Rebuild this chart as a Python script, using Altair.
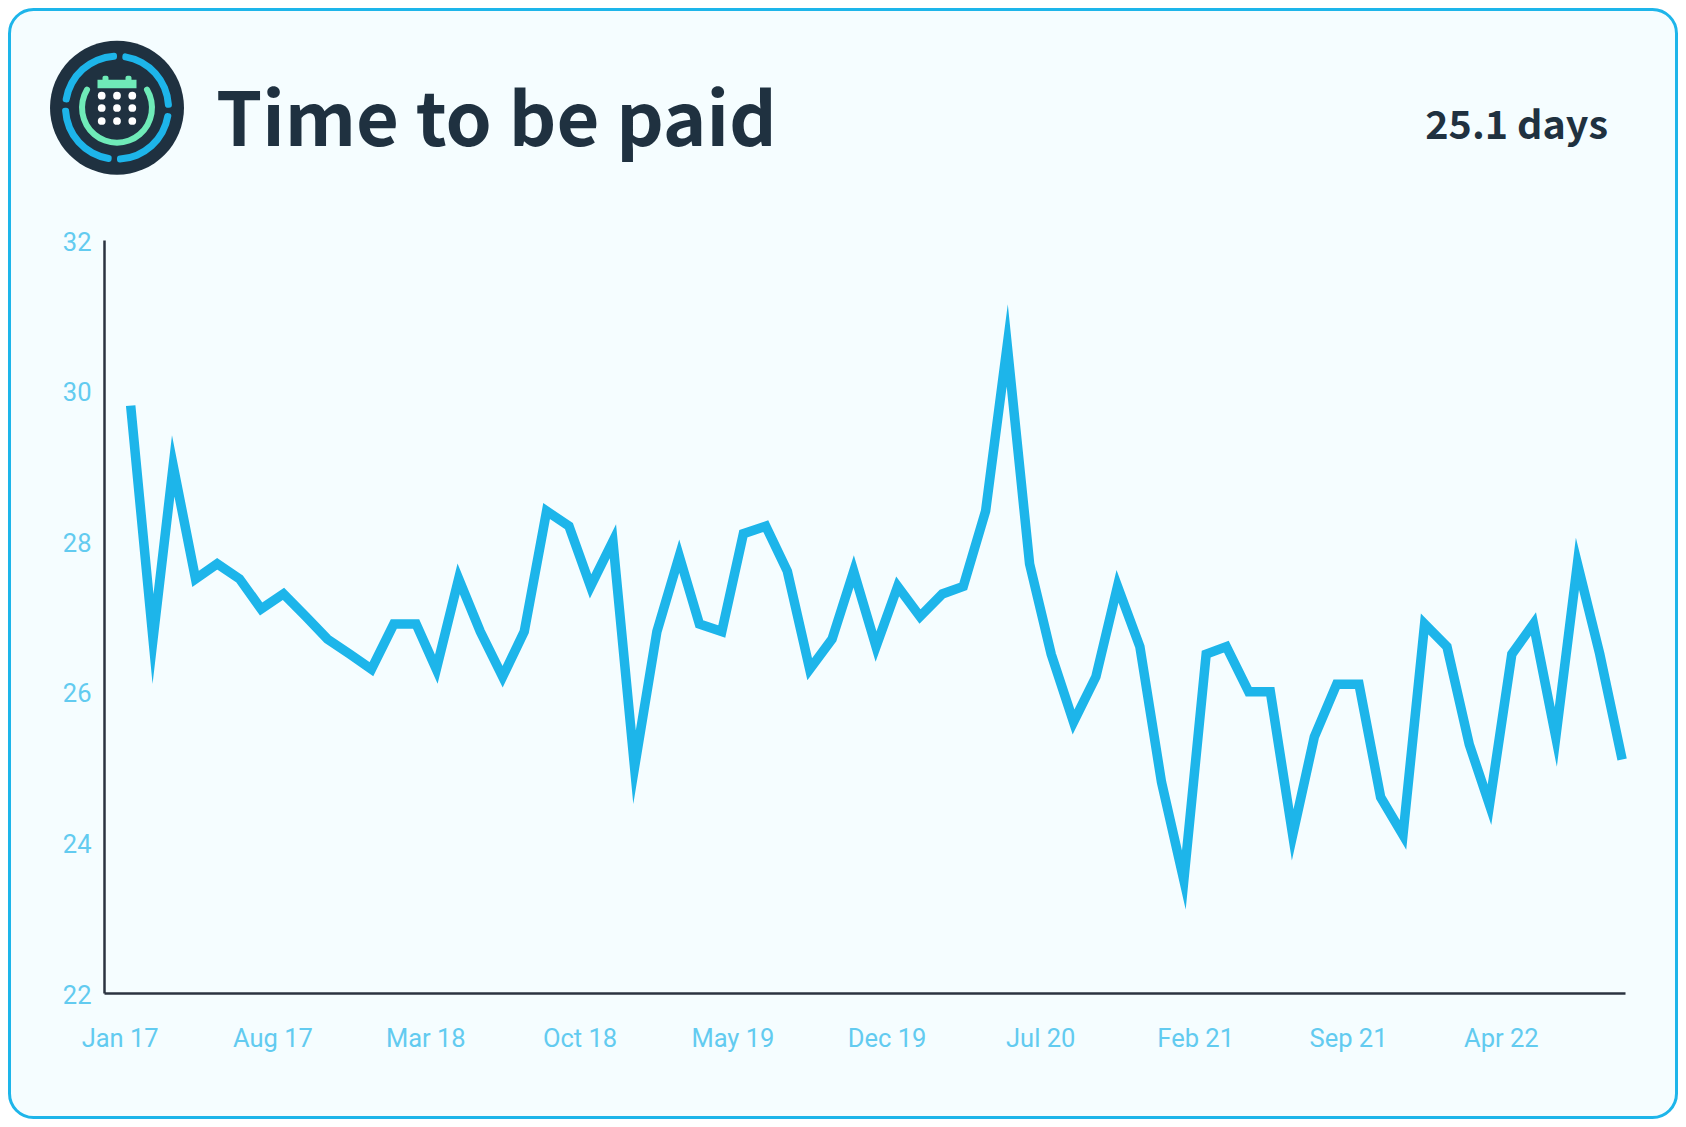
import math
import altair as alt
import pandas as pd

start_months = pd.date_range("2017-01-01", periods=69, freq="MS")
values = [29.8, 26.7, 29.0, 27.5, 27.7, 27.5, 27.1, 27.3, 27.0, 26.7, 26.5, 26.3, 26.9, 26.9, 26.3, 27.5, 26.8,
          26.2, 26.8, 28.4, 28.2, 27.4, 28.0, 25.0, 26.8, 27.8, 26.9, 26.8, 28.1, 28.2, 27.6, 26.3, 26.7, 27.6,
          26.6, 27.4, 27.0, 27.3, 27.4, 28.4, 30.6, 27.7, 26.5, 25.6, 26.2, 27.4, 26.6, 24.8, 23.5, 26.5, 26.6,
          26.0, 26.0, 24.1, 25.4, 26.1, 26.1, 24.6, 24.1, 26.9, 26.6, 25.3, 24.5, 26.5, 26.9, 25.4, 27.7, 26.5, 25.1]
x_ticks = ["2017-01-01", "2017-08-01", "2018-03-01", "2018-10-01", "2019-05-01", "2019-12-01", "2020-07-01",
           "2021-02-01", "2021-09-01", "2022-04-01"]
y_ticks = [22, 24, 26, 28, 30, 32]
title = "Time to be paid"
current = "25.1 days"

BLUE = "#1DB5EA"
LABEL = "#62CBF0"
DARK = "#1F3140"
GREEN = "#6FEBB8"
AXIS = "#2B3340"
CARD = "#F5FDFF"

W, H = 1521, 753
PL, PT, PR, PB = 96, 232, 53, 126
OX, OY = 104, 240

df = pd.DataFrame({"month": start_months.strftime("%Y-%m-%d"), "value": values})
one = pd.DataFrame({"k": [0]})

card = alt.Chart(one).mark_rect(fill=CARD, stroke=BLUE, strokeWidth=3, cornerRadius=24).encode(
    x=alt.value(-PL + 1.5), x2=alt.value(W + PR - 1.5),
    y=alt.value(-PT + 1.5), y2=alt.value(H + PB - 1.5),
)

line = alt.Chart(df).mark_line(color=BLUE, strokeWidth=9.5, strokeJoin="miter", strokeMiterLimit=10).encode(
    x=alt.X("month:T",
            scale=alt.Scale(type="utc", domain=["2016-11-25", "2022-09-05"]),
            axis=alt.Axis(title=None, values=x_ticks, labelExpr="utcFormat(datum.value, '%b %y')", grid=False, ticks=False,
                          labelColor=LABEL, labelFont="Roboto", labelFontSize=25.5, labelPadding=33, zindex=1,
                          labelOffset=-11, labelFlush=False, domainColor=AXIS, domainWidth=2.5, labelOverlap=False)),
    y=alt.Y("value:Q",
            scale=alt.Scale(domain=[22, 32], nice=False, zero=False),
            axis=alt.Axis(title=None, values=y_ticks, grid=False, ticks=False, format="d", zindex=1,
                          labelColor=LABEL, labelFont="Roboto", labelFontSize=25.5, labelPadding=13,
                          labelOffset=2, labelFlush=False, domainColor=AXIS, domainWidth=2.5)),
)

title_mark = alt.Chart(one).mark_text(text=title, font="Noto Sans CJK SC", fontWeight=700, fontSize=74, align="left",
                                       baseline="alphabetic", color=DARK).encode(
    x=alt.value(216 - OX), y=alt.value(146 - OY))
current_mark = alt.Chart(one).mark_text(text=current, font="Noto Sans CJK SC", fontWeight=700, fontSize=39.5, align="right",
                                         baseline="alphabetic", color=DARK).encode(
    x=alt.value(1608 - OX), y=alt.value(139 - OY))

# icon (decorative), relative to its centre
CX, CY = 117 - OX, 107.7 - OY
icon = [alt.Chart(one).mark_arc(color=DARK, theta=0, theta2=2 * math.pi, innerRadius=0, outerRadius=67).encode(
    x=alt.value(CX), y=alt.value(CY))]
for a0, a1 in [(3, 87), (93, 177), (183, 267), (273, 357)]:
    icon.append(alt.Chart(one).mark_arc(color=BLUE, theta=math.radians(a0 + 3), theta2=math.radians(a1 + 3),
                                        innerRadius=48, outerRadius=55, cornerRadius=3).encode(
        x=alt.value(CX), y=alt.value(CY)))
icon.append(alt.Chart(one).mark_arc(color=GREEN, theta=math.radians(54), theta2=math.radians(306),
                                    innerRadius=32, outerRadius=38, cornerRadius=3).encode(
    x=alt.value(CX), y=alt.value(CY)))
icon.append(alt.Chart(one).mark_rect(color=GREEN).encode(
    x=alt.value(CX - 19.5), x2=alt.value(CX + 19.5), y=alt.value(CY - 28), y2=alt.value(CY - 19.5)))
for dx in (-11.5, 11.5):
    icon.append(alt.Chart(one).mark_rect(color=GREEN, cornerRadius=2).encode(
        x=alt.value(CX + dx - 3), x2=alt.value(CX + dx + 3), y=alt.value(CY - 32), y2=alt.value(CY - 26)))
for dx in (-15.3, 0, 15.3):
    for dy in (-12, 0.3, 13.3):
        icon.append(alt.Chart(one).mark_point(filled=True, shape="circle", color="white", size=60, opacity=1).encode(
            x=alt.value(CX + dx), y=alt.value(CY + dy)))

chart = alt.layer(card, line, title_mark, current_mark, *icon).properties(
    width=W, height=H,
    padding={"left": PL, "top": PT, "right": PR, "bottom": PB},
    autosize=alt.AutoSizeParams(type="none"),
    background="white",
).configure_view(stroke=None)

chart.save("out.html", embed_options={"renderer": "svg", "actions": False})
